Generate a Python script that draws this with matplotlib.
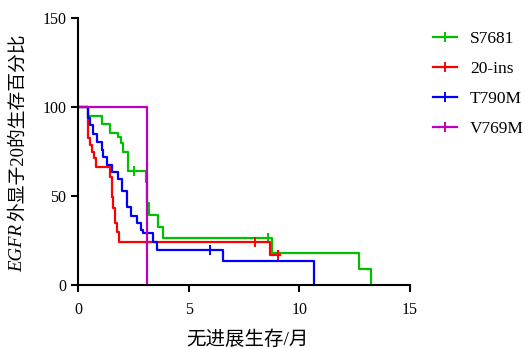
import matplotlib
matplotlib.use("Agg")
from matplotlib import pyplot as plt
from matplotlib.lines import Line2D

plt.rcParams['font.family'] = ['Liberation Serif', 'Noto Sans CJK SC']

# Kaplan-Meier steps: time (months), survival (%) after each step
green_t = [0, 0.44, 1.10, 1.45, 1.82, 1.94, 2.05, 2.24, 3.07, 3.12, 3.22, 3.63, 3.83, 8.75, 12.71, 13.23]
green_s = [100, 95.1, 90.3, 85.2, 83.3, 79.6, 74.9, 64.0, 58.0, 46.0, 39.3, 32.8, 26.2, 17.8, 8.8, 0]
green_ct = [2.53, 8.6]
green_cs = [64.0, 26.2]

red_t = [0, 0.44, 0.54, 0.65, 0.74, 0.81, 1.45, 1.52, 1.60, 1.67, 1.75, 1.84, 8.68, 9.13]
red_s = [100, 82.4, 78.7, 74.9, 71.1, 66.5, 60.5, 49.3, 43.1, 34.7, 29.9, 24.3, 16.9, 16.9]
red_ct = [8.0, 9.05]
red_cs = [24.3, 16.9]

blue_t = [0, 0.44, 0.54, 0.69, 0.84, 1.07, 1.14, 1.30, 1.52, 1.82, 1.97, 2.20, 2.38, 2.65, 2.85, 2.95, 3.37, 3.55, 6.54, 10.68]
blue_s = [100, 94, 90, 85, 80.5, 76, 72, 67.4, 63.6, 59.4, 53, 44, 39, 35, 31, 29, 24.3, 19.7, 13.3, 0]
blue_ct = [5.96]
blue_cs = [19.7]

purple_t = [0, 3.13]
purple_s = [100, 0]

names = ['S7681', '20-ins', 'T790M', 'V769M']
colors = ['#00c000', '#ff0000', '#0000ff', '#c000c0']


def main():
    fig = plt.figure(figsize=(5.29, 3.48), dpi=100)
    ax = fig.add_axes([0.1474, 0.181, 0.6276, 0.767])

    series = [(green_t, green_s, green_ct, green_cs),
              (red_t, red_s, red_ct, red_cs),
              (blue_t, blue_s, blue_ct, blue_cs),
              (purple_t, purple_s, [], [])]
    for (t, s, ct, cs), c in zip(series, colors):
        ax.step(t, s, where='post', color=c, lw=1.6, clip_on=False)
        if ct:
            ax.plot(ct, cs, ls='none', marker='|', ms=7, mew=1.4, color=c)

    ax.set_xlim(0, 15)
    ax.set_ylim(0, 150)
    ax.set_xticks([0, 5, 10, 15])
    ax.set_yticks([0, 50, 100, 150])
    for sp in ['top', 'right']:
        ax.spines[sp].set_visible(False)
    for sp in ['left', 'bottom']:
        ax.spines[sp].set_linewidth(1.5)
    ax.tick_params(width=1.5, length=5, labelsize=11.5, direction='out')
    ax.tick_params(axis='x', pad=7)

    ax.set_xlabel('无进展生存/月', fontsize=14, va='center')
    ax.xaxis.set_label_coords(0.509, -0.206)

    # y label: italic gene name followed by the Chinese text
    t1 = fig.text(0.034, 0.218, 'EGFR', rotation=90, style='italic', fontsize=13.5,
                  va='bottom', ha='center')
    fig.canvas.draw()
    bb = t1.get_window_extent().transformed(fig.transFigure.inverted())
    fig.text(0.034, bb.y1 + 0.01, '外显子20的生存百分比', rotation=90, fontsize=13.5,
             va='bottom', ha='center')

    handles = [Line2D([], [], color=c, lw=1.6, marker='|', ms=7, mew=1.4) for c in colors]
    fig.legend(handles, names, loc='upper left', bbox_to_anchor=(0.805, 0.931),
               frameon=False, fontsize=12.5, handlelength=1.4, handletextpad=0.75,
               labelspacing=0.8, numpoints=1, borderaxespad=0)

    fig.savefig('out.png', dpi=100)


if __name__ == '__main__':
    main()
